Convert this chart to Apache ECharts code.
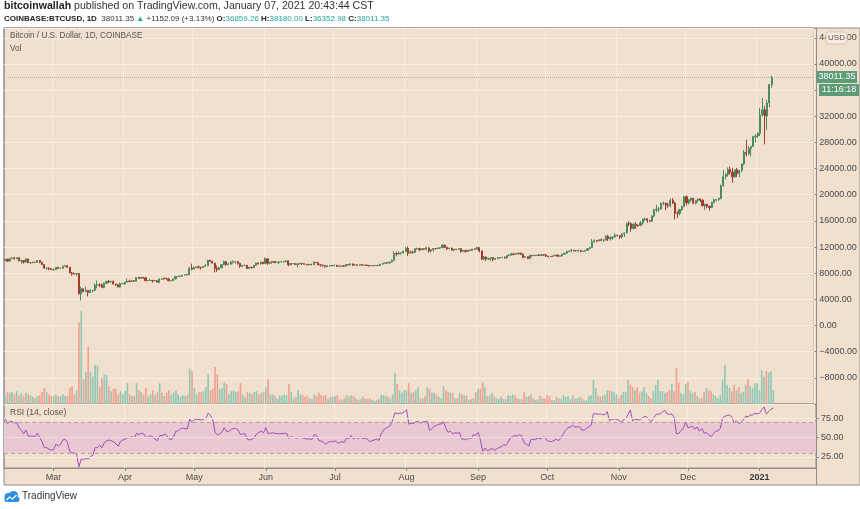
<!DOCTYPE html>
<html>
<head>
<meta charset="utf-8">
<script src="https://cdn.jsdelivr.net/npm/echarts@6/dist/echarts.min.js"></script>
<style>
html,body{margin:0;padding:0;background:#ffffff;}
#c{width:860px;height:509px;}
</style>
</head>
<body>
<div id="c"></div>
<script>
// ---- data (daily, Feb 9 2020 .. Jan 7 2021) ----
const firstDate = '2020-02-09';
const slotCount = 352; // days shown on the time axis (incl. empty right margin)
const firstOpen = 9900;
const closes = [
10150,9850,10270,10350,10240,10370,9900,9930,9700,10180,
9600,9610,9690,9670,9970,9660,9310,8790,8790,8680,
8540,8540,8910,8760,8760,9080,9150,8900,8030,7930,
7900,7950,4860,5620,5170,5360,5030,5330,5410,6190,
6200,6190,5830,6480,6760,6690,6760,6370,6250,5880,
6400,6420,6640,6800,6740,6860,6780,7340,7200,7370,
7300,6870,6890,6910,6850,6860,6620,7120,7100,7260,
7130,6850,6860,7130,7490,7510,7540,7700,7780,7760,
8780,8620,8830,8970,8900,8880,9030,9150,9990,9810,
9540,8730,8570,8820,9310,9790,9320,9380,9680,9730,
9780,9510,9060,9170,9180,8720,8900,8840,9200,9570,
9430,9700,9450,10200,9520,9670,9790,9620,9670,9750,
9780,9780,9890,9280,9470,9480,9340,9430,9520,9460,
9380,9300,9360,9290,9680,9630,9290,9250,9160,9000,
9120,9190,9140,9230,9090,9060,9130,9080,9340,9250,
9430,9230,9290,9230,9300,9240,9250,9190,9130,9150,
9170,9210,9160,9390,9540,9610,9550,9700,9930,11030,
10930,11100,11110,11350,11800,11070,11230,11190,11750,11770,
11600,11760,11680,11880,11400,11570,11780,11770,11860,11910,
12290,11960,11750,11860,11530,11680,11650,11760,11340,11470,
11320,11540,11480,11710,11660,11930,11400,10180,10480,10160,
10260,10380,10130,10240,10370,10400,10440,10330,10680,10790,
10960,10950,10940,11090,10920,10420,10530,10240,10740,10690,
10730,10770,10700,10840,10780,10620,10570,10550,10670,10790,
10600,10670,10920,11060,11300,11380,11540,11420,11430,11500,
11320,11370,11510,11750,11920,12820,12980,12940,13120,13030,
13070,13650,13280,13460,13560,13800,13760,13550,14030,14150,
15590,15580,14840,15480,15330,15310,15700,16280,16320,16070,
15960,16730,17680,17780,17820,18680,18700,18430,18370,19160,
18740,17150,17140,17720,18180,19700,18770,19220,19450,18700,
19150,19360,19170,18320,18550,18250,18040,18800,19170,19270,
19440,21370,22800,23120,23860,23480,22730,23830,23260,23720,
24700,26490,26280,27080,27390,28880,28990,29400,32190,33000,
32030,34030,36859.26,38011.35
];
const highs = [
10180,10180,10300,10420,10500,10390,10380,10050,9960,10250,
10200,9650,9760,9700,10000,9990,9670,9330,8950,8890,
8780,8750,8950,8930,8850,9140,9180,9200,8900,8180,
8140,7990,7960,5950,5650,5950,5370,5560,5430,6420,
6890,6460,6410,6600,6830,6980,6800,6880,6380,6260,
6600,6520,6700,7200,7000,6990,6880,7370,7470,7420,
7380,7300,6950,7180,6910,6980,6930,7200,7150,7320,
7260,7220,6940,7150,7580,7600,7680,7720,7800,7800,
8960,9460,9050,9010,9190,8960,9080,9390,10060,9990,
9910,9570,9170,8940,9400,9930,9850,9590,9880,9950,
9840,9820,9560,9270,9320,9300,8980,9010,9220,9610,
9610,9740,9700,10430,10230,9690,9880,9850,9740,9800,
9800,9880,9990,9940,9550,9500,9490,9490,9580,9550,
9480,9400,9400,9430,9780,9700,9670,9320,9280,9200,
9190,9230,9200,9300,9260,9130,9190,9140,9360,9370,
9460,9440,9300,9300,9330,9350,9280,9270,9200,9180,
9190,9230,9220,9420,9560,9670,9640,9730,10120,11400,
11250,11340,11170,11450,12000,12100,11480,11420,11800,11900,
11920,11800,11810,12070,11940,11610,11790,11850,11950,11920,
12470,12400,12020,11880,11880,11690,11710,11810,11770,11530,
11590,11550,11580,11720,11790,12090,11950,11450,10630,10560,
10350,10410,10440,10350,10500,10410,10480,10580,10790,10930,
11100,11040,11030,11180,11120,10990,10570,10540,10790,10760,
10800,10800,10950,10860,10850,10930,10620,10600,10690,10800,
10800,10690,10950,11100,11480,11440,11720,11560,11550,11620,
11540,11400,11520,11820,12020,13220,13190,13030,13160,13340,
13240,13790,13860,13640,13670,14100,13900,13830,14070,14250,
15750,15970,15770,15650,15840,15470,15960,16340,16480,16330,
16150,16880,17860,18490,18130,18810,18970,18750,18770,19420,
19480,18920,17460,17850,18350,19860,19920,19300,19570,19530,
19170,19420,19400,19300,18640,18560,18270,18950,19410,19350,
19570,21560,23800,23280,24170,24300,24100,23850,24100,23790,
24790,26870,28420,27420,27410,28990,29300,29600,33300,34800,
33600,34500,36950,38180
];
const lows = [
9870,9720,9730,10230,10080,10130,9820,9460,9480,9600,
9600,9400,9560,9580,9660,9520,9290,8650,8530,8450,
8530,8420,8520,8660,8670,8750,9010,8860,8000,7630,
7740,7600,4750,3850,5090,5160,4450,4990,5070,5260,
5700,5900,5780,5710,6390,6460,6550,6260,6030,5870,
5860,6340,6180,6600,6620,6680,6680,6770,7110,7150,
7120,6770,6780,6810,6560,6780,6610,6470,7000,7080,
7050,6760,6790,6840,7090,7400,7460,7500,7680,7690,
7740,8430,8620,8770,8720,8560,8790,8940,9060,9720,
9520,8110,8200,8530,8800,9260,9140,9220,9340,9470,
9460,9290,8810,8950,9100,8700,8640,8720,8820,9110,
9330,9360,9390,9420,9270,9390,9460,9580,9560,9380,
9630,9570,9720,9080,9250,9390,9250,8900,9370,9250,
9280,9200,9180,9270,9280,9580,9210,9000,9050,8840,
8960,9020,9080,9080,8940,9030,9050,8980,9070,9210,
9230,9150,9120,9190,9160,9200,9110,9170,9010,9090,
9120,9110,9140,9150,9290,9470,9450,9530,9650,9910,
10600,10870,10830,10980,11220,10650,10950,11000,11100,11570,
11350,11530,11530,11530,11150,11170,11300,11630,11680,11700,
11840,11840,11570,11670,11490,11380,11530,11580,11120,11260,
11150,11290,11450,11460,11600,11650,11180,10010,9980,9880,
10000,9880,9850,10010,10200,10200,10300,10270,10210,10630,
10670,10750,10820,10890,10780,10300,10360,10150,10220,10530,
10650,10620,10650,10640,10670,10480,10370,10500,10530,10630,
10530,10560,10530,10830,11060,11260,11200,11330,11290,11270,
11220,11300,11350,11420,11690,11900,12680,12730,12900,12900,
12800,13050,12920,12990,13140,13440,13620,13230,13300,13550,
14100,15200,14350,14710,14800,15080,15300,15440,15980,15710,
15800,15880,16550,17350,17350,17750,18390,17650,18010,18050,
18600,16200,16440,16880,17520,18180,18330,18520,18930,18570,
18500,18860,18900,18210,17650,17910,17570,18020,18720,19000,
19070,19300,21250,22350,22800,23080,21820,22600,22700,22700,
23440,24500,25850,26100,25880,27330,28000,28700,29000,32000,
27700,29900,33400,36352.98
];
// volume, thousands of BTC
const volumes = [
12,15,14,15,12,16,11,14,10,14,
12,11,9,7,10,11,15,20,15,12,
10,10,12,10,9,12,10,10,20,22,
12,17,102,116,31,40,72,40,34,49,
48,21,32,37,36,22,16,19,19,12,
16,12,16,26,12,10,10,26,17,15,
12,20,9,12,17,11,15,26,14,10,
14,17,11,14,17,12,9,11,10,11,
44,41,20,12,15,15,16,21,37,17,
19,46,37,19,20,27,25,12,16,17,
15,16,26,12,9,15,14,12,15,16,
12,14,15,21,31,12,12,10,7,11,
10,12,11,25,15,7,9,17,12,11,
9,10,7,6,12,10,14,11,10,11,
6,9,9,10,11,6,5,7,11,9,
11,10,7,5,6,9,7,6,7,5,
4,5,6,11,11,10,9,7,11,39,
25,17,14,17,17,26,14,15,17,21,
7,7,10,21,19,14,14,11,9,7,
22,17,15,14,14,7,7,14,12,11,
10,5,6,7,15,19,19,27,21,10,
11,14,10,7,6,9,6,6,11,10,
12,11,7,6,6,15,9,10,12,7,
5,6,10,7,7,11,10,5,5,9,
7,6,11,9,10,6,11,7,7,9,
7,4,5,10,11,30,20,11,9,10,
12,17,17,16,15,12,7,11,15,15,
30,24,21,17,21,14,16,21,14,10,
7,16,24,30,16,16,14,15,17,25,
16,45,27,14,12,25,27,16,14,15,
10,7,7,15,20,17,16,12,10,7,
11,31,49,24,20,16,24,17,21,14,
15,24,31,22,20,26,26,17,42,34,
41,39,41,17
];
const rsiValues = [
75,68.5,71,71,69,70,63,60,55,60,
52,52,52,51.5,56,50,45,37,37,35,
34,34,41.5,39,41,47,48,44,32,30,
30,28,12,22.6,21,23.4,22,25.7,27,37,
37,40,37,43.6,46,47,46,44.6,42,39,
45,47,48,50,50.4,51,50,55.8,54,55.8,
55,50.4,50.6,52.7,51,48,46,52.7,52.5,54.6,
53,49,47,51,58.5,58.8,61.8,62.5,61.8,61.5,
74.3,70,73.6,74,73.6,73,74,75.3,82,79,
73.6,57,53.6,55,57.2,63,58,58.5,61,62,
62,60,54,55,55,48,47,48,50.4,55,
57,58.5,56.5,63,55,56,56.5,55.5,55.5,55,
55.5,55.5,56,49,51,50.4,49.5,50,50.5,49.7,
49,48,48.5,47.6,54,53,46,45.5,44,41.5,
44,45,44.5,46,43.6,43.3,45,43.6,50,48.5,
52.7,48,50.4,49,50.5,49,49.5,48,45,46,
47,48,46.5,55,60,62,64,66,73,82.8,
81,82,82,83.5,86.5,67.6,69,68.5,70.7,71,
69.3,70.5,70.7,71.5,59.5,62,65,66,67.5,68,
70.7,63,57,58.5,55,56.5,56,56.5,48,48.2,
47,49.7,49,54,53,57,47,32.4,36.5,33,
34,36,33.5,35,37,38,40.5,40,44,49.7,
51.5,52.7,52,54,52,43,41.5,39,48,47.5,
48,49.7,48.5,50.4,50.4,46,45,45,46.5,48,
46,50.4,55,60,63,64,66,64,64,64.5,
60,60,62,64,66,81,81.5,80.5,81,80,
80,84,72,74,74.5,74,73,69,73.5,75,
80,86,72,74,73.6,73,75,77.4,77.5,74,
70.7,75,80,81,81,84,85.5,81,80.5,81,
77,55,55.5,59.5,62,70.7,63,64,65,61,
64,58.5,62,56,57,54,51.4,55,58.5,59,
62,75.3,78,79,79.7,77,69.3,72,68.5,70,
73,78,77,79.7,79.5,82,81,82,86.5,90,
81,84,87.2,88.8
];
const tickDates = ['2020-03-01','2020-04-01','2020-05-01','2020-06-01','2020-07-01','2020-08-01','2020-09-01','2020-10-01','2020-11-01','2020-12-01','2021-01-01'];
const tickLabels = ['Mar','Apr','May','Jun','Jul','Aug','Sep','Oct','Nov','Dec','2021'];
const rsiTicks = [25,50,75];
const rsiBand = [30,70];
const lastPrice = 38011.35;
const countdown = '11:16:18';

// ---- fonts: prefer a narrow sans if one is installed ----
function hasFont(name){
  const ctx = document.createElement('canvas').getContext('2d');
  const s = 'abcdefghijklmnopqrstuvwxyzABCDEFGHIJ0123456789';
  ctx.font = '40px monospace'; const a = ctx.measureText(s).width;
  ctx.font = '40px "' + name + '", monospace'; const b = ctx.measureText(s).width;
  return Math.abs(a-b) > 0.5;
}
const FONT = 'Liberation Sans, Arial, sans-serif';
const HAS_NARROW = hasFont('Liberation Sans Narrow');
const NFONT = HAS_NARROW ? '"Liberation Sans Narrow", Liberation Sans, sans-serif' : FONT;
const NK = HAS_NARROW ? 1.2 : 1.0; // size factor for equal width

// ---- build ----
const categories = [];
const t0 = Date.parse(firstDate + 'T00:00:00Z');
for (let i = 0; i < slotCount; i++) categories.push(new Date(t0 + i*86400000).toISOString().slice(0,10));
const tickSet = {};
tickDates.forEach((d,k)=>{ tickSet[d] = tickLabels[k]; });
const isTick = (idx) => tickSet[categories[idx]] !== undefined;

const opens = closes.map((c,i)=> i===0 ? firstOpen : closes[i-1]);
const candleData = closes.map((c,i)=>[opens[i], c, lows[i], highs[i]]);
const UP = '#4b8b5f', DOWN = '#a03c2e';
const VUP = '#93c8b4', VDOWN = '#efa292';
const volData = volumes.map((v,i)=>({value:v, itemStyle:{color: closes[i] >= opens[i] ? VUP : VDOWN}}));

const BG = '#f2e0cf';
const GRIDC = '#f8ede3';
const AXC = '#8d8d8d';
const TXT = '#4a4a4a';

const L = 4, R = 44, P_TOP = 28, P_H = 376, RSI_TOP = 404, RSI_H = 64;

const chart = echarts.init(document.getElementById('c'));
const option = {
  backgroundColor: '#ffffff',
  animation: false,
  textStyle: {fontFamily: FONT},
  grid: [
    {left: L, right: R, top: P_TOP, height: P_H, show: true, borderColor: AXC, borderWidth: 1, backgroundColor: 'transparent'},
    {left: L, right: R, top: P_TOP, height: P_H},
    {left: L, right: R, top: RSI_TOP, height: RSI_H, show: true, borderColor: AXC, borderWidth: 1, backgroundColor: 'transparent'}
  ],
  xAxis: [
    {type:'category', gridIndex:0, data:categories, boundaryGap:true,
     axisLine:{show:false}, axisTick:{show:false}, axisLabel:{show:false},
     splitLine:{show:true, interval:(i)=>isTick(i), lineStyle:{color:GRIDC, width:1}}},
    {type:'category', gridIndex:1, data:categories, boundaryGap:true, show:false},
    {type:'category', gridIndex:2, data:categories, boundaryGap:true,
     axisLine:{show:true, lineStyle:{color:AXC}},
     axisTick:{show:true, interval:(i)=>isTick(i), alignWithLabel:true, length:3, lineStyle:{color:AXC}},
     axisLabel:{show:true, interval:(i)=>isTick(i),
       formatter:(v)=> { const t = tickSet[v] || ''; return /^\d{4}$/.test(t) ? '{y|' + t + '}' : t; },
       rich:{y:{fontWeight:'bold', color:'#3a3a3a', fontSize:9, fontFamily:FONT}},
       color:TXT, fontSize:9, fontFamily:FONT, margin:5, hideOverlap:false},
     splitLine:{show:true, interval:(i)=>isTick(i), lineStyle:{color:GRIDC, width:1}}}
  ],
  yAxis: [
    {type:'value', gridIndex:0, position:'right', min:-12000, max:45500, interval:4000, scale:false,
     axisLine:{show:false}, axisTick:{show:true, length:3, lineStyle:{color:AXC}},
     axisLabel:{color:TXT, fontSize:9, fontFamily:FONT, margin:5,
       formatter:(v)=> (v % 4000 === 0 && v > -12000 && v <= 44000) ? (v < 0 ? '\u2212' + Math.abs(v).toFixed(2) : v.toFixed(2)) : ''},
     splitLine:{show:true, lineStyle:{color:GRIDC, width:1}}},
    {type:'value', gridIndex:1, min:0, max:469, show:false, splitLine:{show:false}},
    {type:'value', gridIndex:2, position:'right', min:10.4, max:94,
     axisLine:{show:false},
     axisTick:{show:true, length:3, customValues:rsiTicks, lineStyle:{color:AXC}},
     axisLabel:{color:TXT, fontSize:9, fontFamily:FONT, margin:5, customValues:rsiTicks, formatter:(v)=>v.toFixed(2)},
     splitLine:{show:false}}
  ],
  series: [
    {type:'bar', name:'Vol', xAxisIndex:1, yAxisIndex:1, data:volData, barWidth:'72%', z:1, silent:true},
    {type:'candlestick', name:'BTCUSD', xAxisIndex:0, yAxisIndex:0, data:candleData, barWidth:'72%', z:3,
     itemStyle:{color:UP, color0:DOWN, borderColor:UP, borderColor0:DOWN, borderWidth:1},
     markLine:{silent:true, symbol:['none','none'], label:{show:false},
       lineStyle:{type:'dotted', color:'#9dbba5', width:1}, data:[{yAxis:lastPrice}]}},
    {type:'line', name:'RSI', xAxisIndex:2, yAxisIndex:2, data:rsiValues, symbol:'none', z:4,
     lineStyle:{color:'#a04dbd', width:1},
     markArea:{silent:true, itemStyle:{color:'#e8c9d2'}, data:[[{yAxis:rsiBand[0]},{yAxis:rsiBand[1]}]]},
     markLine:{silent:true, symbol:['none','none'], label:{show:false},
       data:[
         {yAxis:rsiBand[1], lineStyle:{type:[4,3], color:'#b8a3a6', width:1}},
         {yAxis:rsiBand[0], lineStyle:{type:[4,3], color:'#b8a3a6', width:1}},
         {yAxis:rsiTicks[0], lineStyle:{type:'solid', color:GRIDC, width:1}},
         {yAxis:rsiTicks[1], lineStyle:{type:'solid', color:'#eedbe3', width:1}},
         {yAxis:rsiTicks[2], lineStyle:{type:'solid', color:GRIDC, width:1}}
       ]}}
  ],
  graphic: {elements: [
    {id:'bg', type:'rect', z:-100, silent:true, shape:{x:4, y:28, width:856, height:457}, style:{fill:BG, stroke:AXC, lineWidth:1}},
    {id:'axv', type:'line', z:50, silent:true, shape:{x1:816.5, y1:28, x2:816.5, y2:485}, style:{stroke:AXC, lineWidth:1}},
    {id:'h1', type:'text', left:4, top:1, z:50, silent:true, style:{
      text:'{b|bitcoinwallah}{n| published on TradingView.com, January 07, 2021 20:43:44 CST}',
      rich:{b:{fontWeight:'bold', fontSize:10.6, fill:'#222', fontFamily:FONT}, n:{fontSize:10.6, fill:'#333', fontFamily:FONT}}}},
    {id:'h2', type:'text', left:4, top:15, z:50, silent:true, style:{
      text:'{b|COINBASE:BTCUSD, 1D}{n|  38011.35 }{g|\u25B2}{n| +1152.09 (+3.13%) }{b|O:}{g|36859.26}{b| H:}{g|38180.00}{b| L:}{g|36352.98}{b| C:}{g|38011.35}',
      rich:{b:{fontWeight:'bold', fontSize:8*NK, fill:'#222', fontFamily:NFONT}, n:{fontSize:8*NK, fill:'#333', fontFamily:NFONT}, g:{fontSize:8*NK, fill:'#26a69a', fontFamily:NFONT}}}},
    {id:'t1', type:'text', left:10, top:32, z:50, silent:true, style:{text:'Bitcoin / U.S. Dollar, 1D, COINBASE', fontSize:8.2*NK, fill:'#555', fontFamily:NFONT}},
    {id:'t2', type:'text', left:10, top:45, z:50, silent:true, style:{text:'Vol', fontSize:8.2*NK, fill:'#555', fontFamily:NFONT}},
    {id:'t3', type:'text', left:10, top:408, z:50, silent:true, style:{text:'RSI (14, close)', fontSize:8.5*NK, fill:'#555', fontFamily:NFONT}},
    {id:'usd', type:'rect', z:60, silent:true, shape:{x:826, y:32, width:21, height:12, r:3}, style:{fill:'#f6e9de', stroke:'#d7c7bb', lineWidth:1}},
    {id:'usdt', type:'text', z:61, silent:true, x:836.5, y:38, style:{text:'USD', fontSize:8, fill:'#555', align:'center', verticalAlign:'middle', fontFamily:FONT}},
    {id:'logo', type:'group', left:4, top:491, silent:true, children:[
      {type:'circle', shape:{cx:5, cy:6, r:4}, style:{fill:'#2e8fe0'}},
      {type:'circle', shape:{cx:10, cy:4.5, r:4.5}, style:{fill:'#2e8fe0'}},
      {type:'rect', shape:{x:1, y:6, width:15, height:5, r:2}, style:{fill:'#2e8fe0'}},
      {type:'polyline', shape:{points:[[3,9],[6,6],[9,8],[13,4]]}, style:{stroke:'#ffffff', lineWidth:1.2, fill:null}}
    ]},
    {id:'logot', type:'text', left:22, top:491, silent:true, style:{text:'TradingView', fontSize:10, fill:'#333', fontFamily:FONT}}
  ]}
};
chart.setOption(option);

// price badges placed at the last price via the axis scale
const yPix = chart.convertToPixel({yAxisIndex:0}, lastPrice);
chart.setOption({graphic: {elements: [
  {id:'pb', type:'rect', z:70, silent:true, shape:{x:817, y:Math.round(yPix)-6, width:40, height:12}, style:{fill:'#5b9b76'}},
  {id:'pbt', type:'text', z:71, silent:true, x:837, y:Math.round(yPix), style:{text:lastPrice.toFixed(2), fontSize:9, fill:'#ffffff', align:'center', verticalAlign:'middle', fontFamily:FONT}},
  {id:'cb', type:'rect', z:70, silent:true, shape:{x:819, y:Math.round(yPix)+7, width:40, height:12}, style:{fill:'#5b9b76'}},
  {id:'cbt', type:'text', z:71, silent:true, x:839, y:Math.round(yPix)+13, style:{text:countdown, fontSize:9, fill:'#ffffff', align:'center', verticalAlign:'middle', fontFamily:FONT}}
]}});
</script>
</body>
</html>
